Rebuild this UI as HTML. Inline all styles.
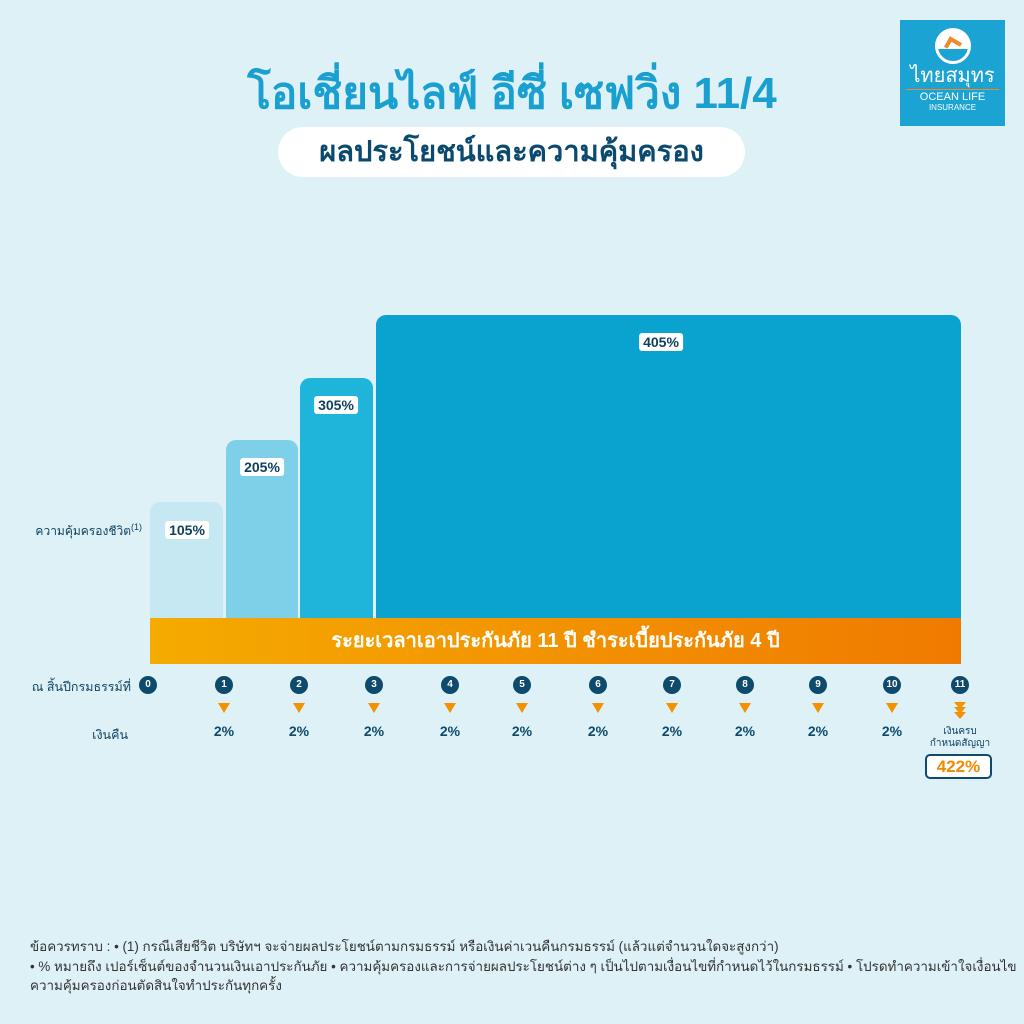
<!DOCTYPE html>
<html><head><meta charset="utf-8"><style>
*{margin:0;padding:0;box-sizing:border-box}
body{width:1024px;height:1024px;background:#def1f7;position:relative;overflow:hidden;font-family:"Liberation Sans","Noto Sans CJK SC",sans-serif}
.a{position:absolute}
.bar{position:absolute;border-radius:10px 10px 0 0}
.lab{position:absolute;background:#fff;color:#0d3f5e;font-weight:bold;font-size:14px;padding:1px 4px;border-radius:3px;transform:translate(-50%,-50%);white-space:nowrap}
.c{position:absolute;width:18px;height:18px;border-radius:50%;background:#0d4a6b;color:#fff;font-size:10px;font-weight:bold;text-align:center;line-height:18px;transform:translate(-50%,-50%)}
.t{position:absolute;width:0;height:0;border-left:6px solid transparent;border-right:6px solid transparent;border-top:10px solid #f39200;transform:translateX(-50%)}
.p{position:absolute;color:#0d4a6b;font-weight:bold;font-size:14px;transform:translate(-50%,-50%)}
.fn{position:absolute;left:30px;font-size:13.4px;color:#333;white-space:nowrap}
</style></head><body>
<div class="a" style="left:0;width:1024px;top:58px;text-align:center;font-size:44px;font-weight:bold;color:#1aa0d0">โอเชี่ยนไลฟ์ อีซี่ เซฟวิ่ง 11/4</div>
<div class="a" style="left:278px;top:127px;width:467px;height:50px;background:#fff;border-radius:25px;text-align:center;line-height:50px;font-size:29px;font-weight:bold;color:#0b4a6e">ผลประโยชน์และความคุ้มครอง</div>
<div class="a" style="left:900px;top:20px;width:105px;height:106px;background:#1aa3d3;color:#fff;text-align:center">
<div style="margin:8px auto 0;width:36px;height:36px;border-radius:50%;border:3px solid #fff;background:linear-gradient(#fff 60%,#1aa3d3 60%)"><div style="margin:8px auto 0;width:14px;height:12px;border-top:4px solid #f08a2a;border-left:4px solid #f08a2a;transform:rotate(30deg)"></div></div>
<div style="font-size:20px;line-height:24px">ไทยสมุทร</div>
<div style="height:1px;background:#f08a2a;margin:1px 6px"></div>
<div style="font-size:11px;line-height:12px">OCEAN LIFE</div>
<div style="font-size:8px;line-height:9px">INSURANCE</div></div>

<div class="bar" style="left:150px;top:502px;width:73px;height:116px;background:#c5e8f2"></div>
<div class="bar" style="left:226px;top:440px;width:72px;height:178px;background:#7dd0e8"></div>
<div class="bar" style="left:300px;top:378px;width:73px;height:240px;background:#1fb5da"></div>
<div class="bar" style="left:376px;top:315px;width:585px;height:303px;background:#0aa3cf"></div>
<div class="lab" style="left:187px;top:530px">105%</div>
<div class="lab" style="left:262px;top:467px">205%</div>
<div class="lab" style="left:336px;top:405px">305%</div>
<div class="lab" style="left:661px;top:342px">405%</div>
<div class="a" style="left:150px;top:618px;width:811px;height:46px;background:linear-gradient(90deg,#f5ab00,#f07a00);color:#fff;font-weight:bold;font-size:20px;text-align:center;line-height:46px">ระยะเวลาเอาประกันภัย 11 ปี ชำระเบี้ยประกันภัย 4 ปี</div>
<div class="a" style="right:882px;top:522px;font-size:12px;color:#0d3f5e">ความคุ้มครองชีวิต<sup style="font-size:9px">(1)</sup></div>
<div class="a" style="right:893px;top:677px;font-size:12.5px;color:#0d3f5e">ณ สิ้นปีกรมธรรม์ที่</div>
<div class="a" style="right:896px;top:725px;font-size:12.5px;color:#0d3f5e">เงินคืน</div>

<div class="c" style="left:148px;top:685px">0</div>
<div class="c" style="left:224px;top:685px">1</div><div class="t" style="left:224px;top:703px"></div><div class="p" style="left:224px;top:731px">2%</div>
<div class="c" style="left:299px;top:685px">2</div><div class="t" style="left:299px;top:703px"></div><div class="p" style="left:299px;top:731px">2%</div>
<div class="c" style="left:374px;top:685px">3</div><div class="t" style="left:374px;top:703px"></div><div class="p" style="left:374px;top:731px">2%</div>
<div class="c" style="left:450px;top:685px">4</div><div class="t" style="left:450px;top:703px"></div><div class="p" style="left:450px;top:731px">2%</div>
<div class="c" style="left:522px;top:685px">5</div><div class="t" style="left:522px;top:703px"></div><div class="p" style="left:522px;top:731px">2%</div>
<div class="c" style="left:598px;top:685px">6</div><div class="t" style="left:598px;top:703px"></div><div class="p" style="left:598px;top:731px">2%</div>
<div class="c" style="left:672px;top:685px">7</div><div class="t" style="left:672px;top:703px"></div><div class="p" style="left:672px;top:731px">2%</div>
<div class="c" style="left:745px;top:685px">8</div><div class="t" style="left:745px;top:703px"></div><div class="p" style="left:745px;top:731px">2%</div>
<div class="c" style="left:818px;top:685px">9</div><div class="t" style="left:818px;top:703px"></div><div class="p" style="left:818px;top:731px">2%</div>
<div class="c" style="left:892px;top:685px">10</div><div class="t" style="left:892px;top:703px"></div><div class="p" style="left:892px;top:731px">2%</div>
<div class="c" style="left:960px;top:685px">11</div>
<div class="t" style="left:960px;top:702px;border-top-width:7px"></div><div class="t" style="left:960px;top:707px;border-top-width:7px"></div><div class="t" style="left:960px;top:712px;border-top-width:7px"></div>
<div class="a" style="left:910px;top:726px;width:100px;text-align:center;font-size:10px;line-height:12px;color:#0d3f5e">เงินครบ<br>กำหนดสัญญา</div>
<div class="a" style="left:925px;top:754px;width:67px;height:25px;border:2px solid #0d4a6b;border-radius:5px;background:#fff;color:#f08a00;font-weight:bold;font-size:17px;text-align:center;line-height:21px">422%</div>

<div class="fn" style="top:936px">ข้อควรทราบ : • (1) กรณีเสียชีวิต บริษัทฯ จะจ่ายผลประโยชน์ตามกรมธรรม์ หรือเงินค่าเวนคืนกรมธรรม์ (แล้วแต่จำนวนใดจะสูงกว่า)</div>
<div class="fn" style="top:956px">• % หมายถึง เปอร์เซ็นต์ของจำนวนเงินเอาประกันภัย • ความคุ้มครองและการจ่ายผลประโยชน์ต่าง ๆ เป็นไปตามเงื่อนไขที่กำหนดไว้ในกรมธรรม์ • โปรดทำความเข้าใจเงื่อนไข</div>
<div class="fn" style="top:975px">ความคุ้มครองก่อนตัดสินใจทำประกันทุกครั้ง</div>
</body></html>
